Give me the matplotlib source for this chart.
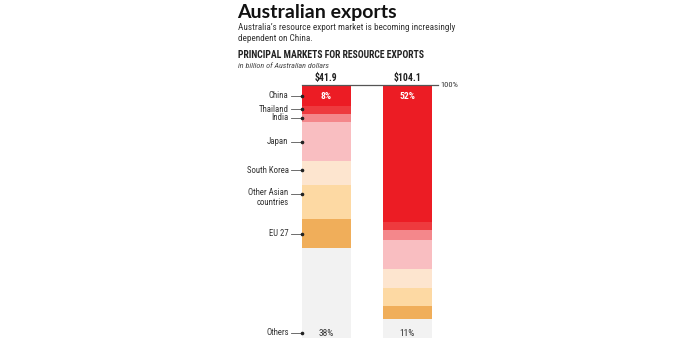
import numpy as np
import matplotlib
matplotlib.use("Agg")
from matplotlib import pyplot as plt

# data
markets = ["China", "Thailand", "India", "Japan", "South Korea",
           "Other Asian\ncountries", "EU 27", "Others"]
share_before = [8, 3, 3, 15, 9, 13, 11, 38]
share_now = [52, 3, 4, 11, 7, 7, 5, 11]
totals = ["$41.9", "$104.1"]
colors = ["#ec1c24", "#ee3a3e", "#f4878b", "#f9bec1", "#fde5cf",
          "#fdd9a3", "#f0ae5a", "#f2f2f2"]

W, H = 692, 338
plt.rcParams['font.family'] = ['Roboto Condensed', 'DejaVu Sans']
fig = plt.figure(figsize=(W / 100, H / 100), dpi=100)

def px(x, y):
    return x / W, 1 - y / H

# axes placed in pixel terms: top of bars at 85px, 100% = 263px
top, full = 85, 263
ax = fig.add_axes([0, (H - top - full) / H, 1, full / H])
ppu = 81.0
ax.set_xlim(-326 / ppu, (W - 326) / ppu)
ax.set_ylim(100, 0)
ax.axis("off")

bw = 49 / ppu
for i, shares in enumerate([share_before, share_now]):
    bottoms = np.concatenate([[0], np.cumsum(shares)[:-1]])
    ax.bar(i, shares, bottom=bottoms, width=bw, color=colors, linewidth=0)
    ax.text(i, -1.4, totals[i], ha="center", va="baseline", fontsize=7,
            fontweight="bold", color="#222222")
    ax.text(i, 4.2, "%d%%" % shares[0], ha="center", va="center", fontsize=6.8,
            fontweight="bold", color="white")
    ax.text(i, 94.6, "%d%%" % shares[-1], ha="center", va="center",
            fontsize=6.8, color="#333333")

# 100% line
ax.plot([-bw / 2, 1 + bw / 2 + 6 / ppu], [0, 0], color="#555555", lw=0.9,
        clip_on=False)
ax.text(1 + bw / 2 + 9 / ppu, 0, "100%", ha="left", va="center",
        fontsize=6, color="#333333")

# market labels on the left
mids = np.cumsum(share_before) - np.array(share_before) / 2
label_y = list(mids)
label_y[1] = 9.2
label_y[4] = 32.5
label_y[5] = 41.5
label_y[-1] = 94.2
for name, y in zip(markets, label_y):
    x0 = -bw / 2
    ax.plot([x0 - 11 / ppu, x0], [y, y], color="#555555", lw=0.6,
            clip_on=False)
    ax.plot([x0], [y], "o", ms=1.6, color="#222222", clip_on=False)
    ax.text(x0 - 13 / ppu, y + (1.2 if "\n" in name else 0), name,
            ha="right", va="center", fontsize=6.3,
            color="#333333", linespacing=1.1)

# headings
fig.text(*px(237, 18), "Australian exports", fontsize=14, fontweight="bold",
         family=["Lato", "DejaVu Sans"], va="baseline", ha="left", color="#111111")
fig.text(*px(238, 29.5), "Australia\u2019s resource export market is becoming increasingly",
         fontsize=6.6, va="baseline", ha="left", color="#333333")
fig.text(*px(238, 41), "dependent on China.",
         fontsize=6.6, va="baseline", ha="left", color="#333333")
fig.text(*px(238, 58.5), "PRINCIPAL MARKETS FOR RESOURCE EXPORTS", fontsize=7,
         fontweight="bold", va="baseline", ha="left", color="#222222")
fig.text(*px(238, 68), "in billion of Australian dollars", fontsize=5.9,
         style="italic", va="baseline", ha="left", color="#444444")

fig.savefig("out.png", dpi=100)
